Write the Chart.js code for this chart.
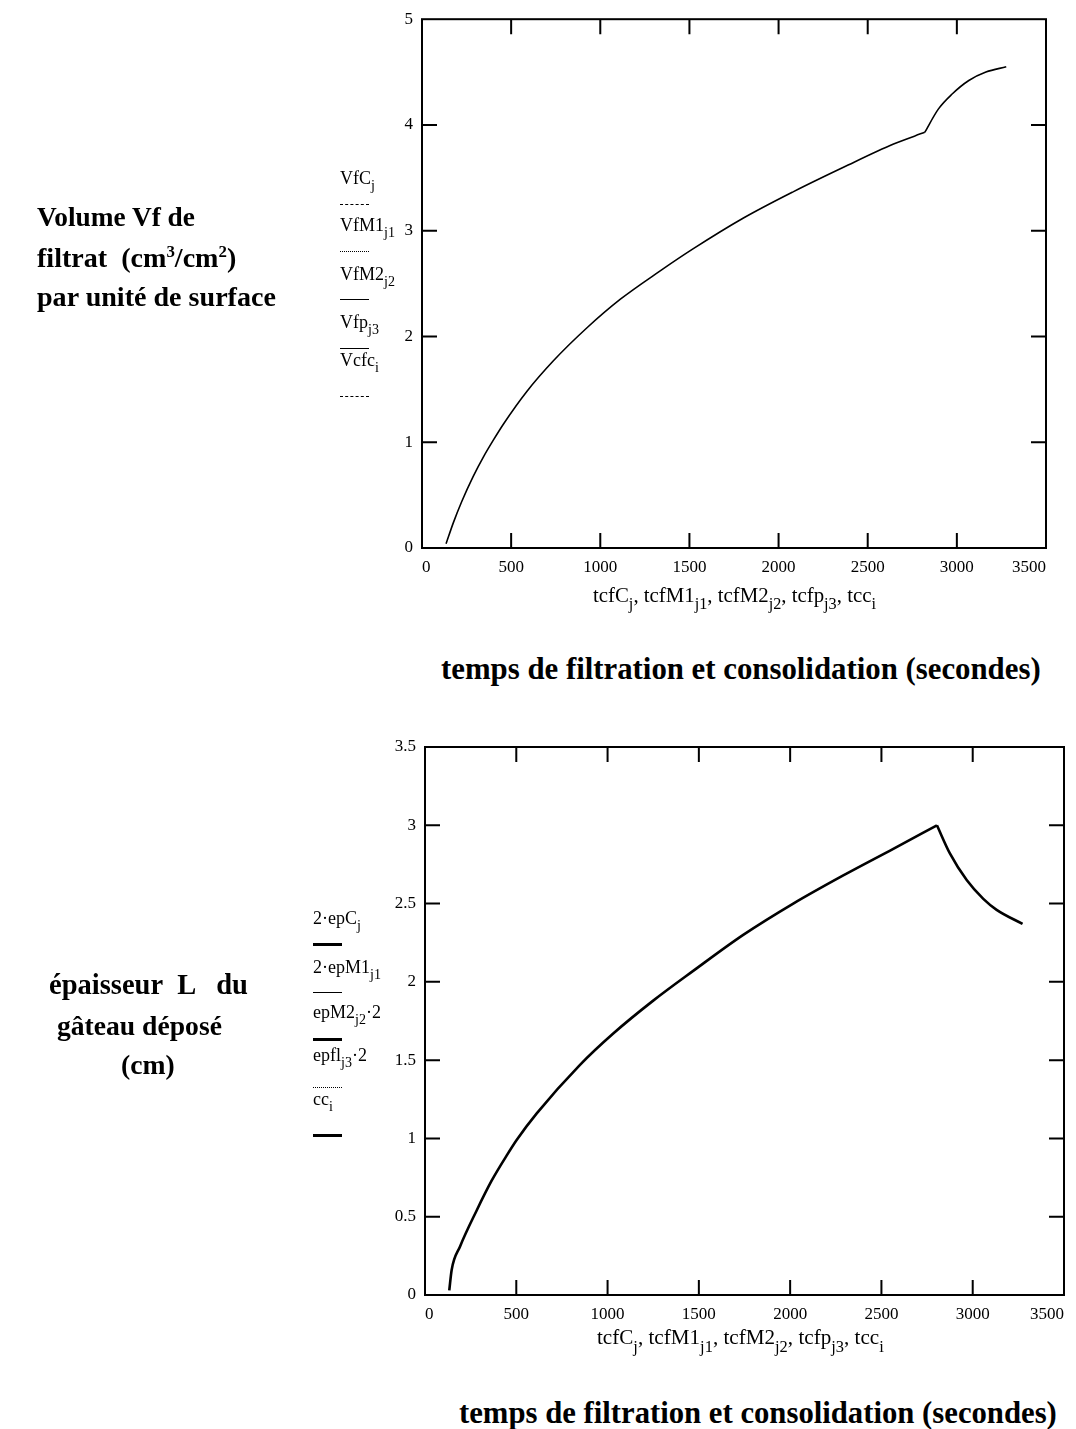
<!DOCTYPE html>
<html>
<head>
<meta charset="utf-8">
<script src="https://cdn.jsdelivr.net/npm/chart.js@4.4.0/dist/chart.umd.min.js"></script>
<style>
  body { margin: 0; background: #fff; width: 1076px; height: 1429px; position: relative; overflow: hidden;
         font-family: "Liberation Serif", "Times New Roman", serif; color: #000; }
  canvas { position: absolute; left: 0; }
  .t { position: absolute; white-space: nowrap; line-height: 1; transform: translateY(-50%); }
  .b { font-weight: bold; }
  .lg { font-size: 18px; }
  .ln { position: absolute; width: 29px; height: 0; border-top: 1.5px solid #000; }
  sub { font-size: 0.78em; vertical-align: -0.45em; line-height: 0; }
  sup { font-size: 0.6em; vertical-align: 0.6em; line-height: 0; }
</style>
</head>
<body>
<canvas id="chartVolume" width="1076" height="600" style="top:0"></canvas>
<canvas id="chartThick" width="1076" height="640" style="top:700px"></canvas>

<!-- top chart texts -->
<div class="t b" data-w="158" style="left:37px;top:218px;font-size:25px">Volume Vf de</div>
<div class="t b" data-like="cap3" style="left:37px;top:258px;font-size:25px">filtrat&nbsp; (cm<sup>3</sup>/cm<sup>2</sup>)</div>
<div class="t b" id="cap3" data-w="239" style="left:37px;top:297px;font-size:25px">par unité de surface</div>

<div class="t lg" style="left:340px;top:178px">VfC<sub>j</sub></div>
<div class="ln" style="left:340px;top:204px;border-top-style:dashed"></div>
<div class="t lg" style="left:340px;top:225px">VfM1<sub>j1</sub></div>
<div class="ln" style="left:340px;top:251px;border-top-style:dotted"></div>
<div class="t lg" style="left:340px;top:274px">VfM2<sub>j2</sub></div>
<div class="ln" style="left:340px;top:299px"></div>
<div class="t lg" style="left:340px;top:322px">Vfp<sub>j3</sub></div>
<div class="ln" style="left:340px;top:348px;border-top-width:1px"></div>
<div class="t lg" style="left:340px;top:360px">Vcfc<sub>i</sub></div>
<div class="ln" style="left:340px;top:396px;border-top-style:dashed"></div>

<div class="t lg" data-w="283" style="left:593px;top:595px">tcfC<sub>j</sub>, tcfM1<sub>j1</sub>, tcfM2<sub>j2</sub>, tcfp<sub>j3</sub>, tcc<sub>i</sub></div>
<div class="t b" data-w="600" style="left:441px;top:669px;font-size:26px">temps de filtration et consolidation (secondes)</div>

<!-- bottom chart texts -->
<div class="t b" data-w="199" style="left:49px;top:985px;font-size:25px">épaisseur&nbsp; L &nbsp; du</div>
<div class="t b" id="cap5" data-w="165" style="left:57px;top:1026px;font-size:25px">gâteau déposé</div>
<div class="t b" data-like="cap5" style="left:121px;top:1065px;font-size:25px">(cm)</div>

<div class="t lg" style="left:313px;top:918px">2·epC<sub>j</sub></div>
<div class="ln" style="left:313px;top:943px;border-top-width:3px"></div>
<div class="t lg" style="left:313px;top:967px">2·epM1<sub>j1</sub></div>
<div class="ln" style="left:313px;top:992px"></div>
<div class="t lg" style="left:313px;top:1012px">epM2<sub>j2</sub>·2</div>
<div class="ln" style="left:313px;top:1038px;border-top-width:3px"></div>
<div class="t lg" style="left:313px;top:1055px">epfl<sub>j3</sub>·2</div>
<div class="ln" style="left:313px;top:1087px;border-top-style:dotted"></div>
<div class="t lg" style="left:313px;top:1099px">cc<sub>i</sub></div>
<div class="ln" style="left:313px;top:1134px;border-top-width:3px"></div>

<div class="t lg" data-w="287" style="left:597px;top:1338px">tcfC<sub>j</sub>, tcfM1<sub>j1</sub>, tcfM2<sub>j2</sub>, tcfp<sub>j3</sub>, tcc<sub>i</sub></div>
<div class="t b" data-w="598" style="left:459px;top:1413px;font-size:26px">temps de filtration et consolidation (secondes)</div>

<script>
// tick labels
const ticksTime = [0, 500, 1000, 1500, 2000, 2500, 3000, 3500];
const ticksVolume = [0, 1, 2, 3, 4, 5];
const ticksThick = [0, 0.5, 1, 1.5, 2, 2.5, 3, 3.5];

// volume of filtrate (cm3/cm2), filtration phase then consolidation phase
const tVolFilt = [135, 176, 223, 288, 344, 400, 460, 588, 737, 924, 1111, 1336, 1522, 1803, 2084, 2364, 2645, 2820];
const volFilt  = [0.04, 0.24, 0.44, 0.68, 0.86, 1.02, 1.18, 1.48, 1.77, 2.08, 2.35, 2.62, 2.83, 3.12, 3.37, 3.60, 3.82, 3.93];
const tVolCons = [2820, 2896, 2972, 3067, 3163, 3277];
const volCons  = [3.93, 4.15, 4.29, 4.42, 4.50, 4.55];

// cake thickness (cm)
const tThickFilt = [133, 146, 192, 283, 365, 447, 502, 612, 849, 1031, 1250, 1469, 1743, 2017, 2291, 2565, 2804];
const thickFilt  = [0.03, 0.16, 0.31, 0.54, 0.73, 0.89, 0.99, 1.16, 1.47, 1.67, 1.88, 2.07, 2.30, 2.50, 2.68, 2.85, 3.00];
const tThickCons = [2804, 2875, 2967, 3058, 3131, 3273];
const thickCons  = [3.00, 2.82, 2.65, 2.53, 2.46, 2.37];

// size captions to the scanned widths
document.querySelectorAll('[data-w]').forEach(el => {
  const w = +el.dataset.w;
  const fs = parseFloat(getComputedStyle(el).fontSize);
  el.style.fontSize = (fs * w / el.getBoundingClientRect().width) + 'px';
});
document.querySelectorAll('[data-like]').forEach(el => {
  el.style.fontSize = document.getElementById(el.dataset.like).style.fontSize;
});

// frame with inward tick marks on all four sides
const frame = {
  id: 'frame',
  afterDraw(chart, args, opts) {
    const { ctx, chartArea: a, scales: { x, y } } = chart;
    const len = opts.len || 15;
    ctx.save();
    ctx.strokeStyle = '#000';
    ctx.lineWidth = 2;
    ctx.strokeRect(a.left, a.top, a.right - a.left, a.bottom - a.top);
    ctx.beginPath();
    x.ticks.forEach(t => {
      const px = x.getPixelForValue(t.value);
      if (px <= a.left + 2 || px >= a.right - 2) return;
      ctx.moveTo(px, a.bottom); ctx.lineTo(px, a.bottom - len);
      ctx.moveTo(px, a.top); ctx.lineTo(px, a.top + len);
    });
    y.ticks.forEach(t => {
      const py = y.getPixelForValue(t.value);
      if (py <= a.top + 2 || py >= a.bottom - 2) return;
      ctx.moveTo(a.left, py); ctx.lineTo(a.left + len, py);
      ctx.moveTo(a.right, py); ctx.lineTo(a.right - len, py);
    });
    ctx.stroke();
    ctx.restore();
  }
};

function line(xs, ys, w) {
  return {
    data: xs.map((x, i) => ({ x: x, y: ys[i] })),
    showLine: true,
    borderColor: '#000',
    borderWidth: w,
    pointRadius: 0,
    cubicInterpolationMode: 'monotone',
    fill: false
  };
}

function makeChart(id, datasets, yTicks, yMax, yWidth, pad) {
  const font = { family: 'Liberation Serif', size: 17 };
  return new Chart(document.getElementById(id), {
    type: 'scatter',
    data: { datasets: datasets },
    options: {
      responsive: false,
      animation: false,
      events: [],
      layout: { padding: pad },
      plugins: { legend: { display: false }, tooltip: { enabled: false }, frame: { len: 15 } },
      scales: {
        x: {
          type: 'linear', min: 0, max: 3500,
          afterBuildTicks: s => { s.ticks = ticksTime.map(v => ({ value: v })); },
          afterFit: s => { s.height = 30; },
          grid: { display: false, drawTicks: false },
          border: { display: false },
          ticks: { align: 'inner', padding: 9, color: '#000', font: font, maxRotation: 0, autoSkip: false,
                   callback: v => String(v) }
        },
        y: {
          type: 'linear', min: 0, max: yMax,
          afterBuildTicks: s => { s.ticks = yTicks.map(v => ({ value: v })); },
          afterFit: s => { s.width = yWidth; },
          grid: { display: false, drawTicks: false },
          border: { display: false },
          ticks: { padding: 9, color: '#000', font: font, autoSkip: false, callback: v => String(v) }
        }
      }
    },
    plugins: [frame]
  });
}

makeChart('chartVolume',
  [line(tVolFilt, volFilt, 1.6), line(tVolCons, volCons, 1.6)],
  ticksVolume, 5, 42, { left: 380, top: 14, right: 30, bottom: 22 });

makeChart('chartThick',
  [line(tThickFilt, thickFilt, 2.6), line(tThickCons, thickCons, 2.6)],
  ticksThick, 3.5, 45, { left: 380, top: 47, right: 12, bottom: 15 });
</script>
</body>
</html>
